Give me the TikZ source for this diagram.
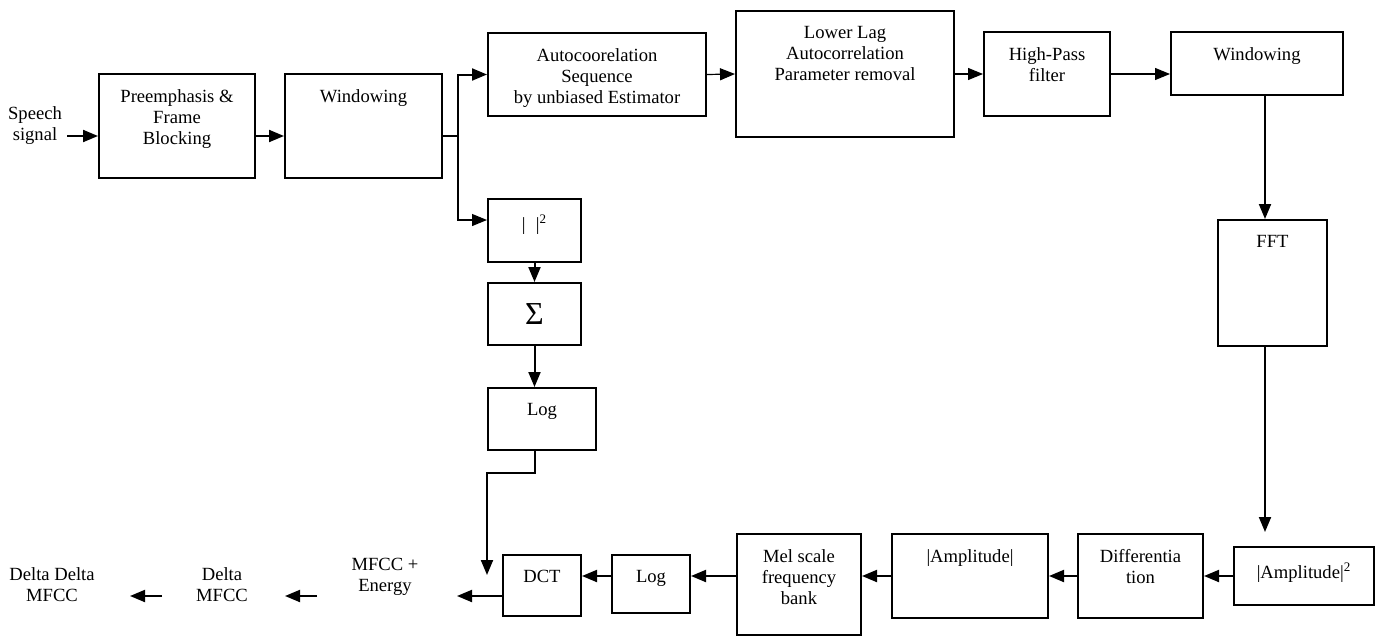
\documentclass[tikz,border=0pt]{standalone}
\usepackage{fontspec}
\setmainfont{Liberation Serif}
\usetikzlibrary{arrows.meta}

\tikzset{
  blk/.style={draw, line width=1pt, anchor=north west, inner sep=0pt},
  lbl/.style={anchor=north, yshift=-8pt, inner sep=0pt, align=center},
  txt/.style={align=center, inner sep=0pt},
  arr/.style={line width=1pt, -{Triangle[length=7.5pt,width=6pt]}},
  tarr/.style={line width=0.6pt, -{Triangle[length=7.5pt,width=6pt]}}
}

\begin{document}
\begin{tikzpicture}[x=0.5pt, y=-0.5pt, font={\fontsize{9.3pt}{10.5pt}\selectfont}]
 \useasboundingbox (0,0) rectangle (1382,637);

 % rows
 \coordinate (r1) at (0,136);
 \coordinate (o0) at (457,596);
 \coordinate (o1) at (317,596);
 \coordinate (o2) at (285,596);
 \coordinate (o3) at (162,596);
 \coordinate (o4) at (130,596);

 % top row
 \node[blk, minimum width=78pt, minimum height=52pt, label={[lbl]north:Preemphasis \&\\Frame\\Blocking}] (pre) at (98,73) {};
 \node[blk, minimum width=78.5pt, minimum height=52pt, label={[lbl]north:Windowing}] (win1) at (284,73) {};
 \node[blk, minimum width=109pt, minimum height=41.5pt, label={[lbl]north:Autocoorelation\\Sequence\\by unbiased Estimator}] (acs) at (487,32) {};
 \node[blk, minimum width=109pt, minimum height=63pt, label={[lbl]north:Lower Lag\\Autocorrelation\\Parameter removal}] (llag) at (735,10) {};
 \node[blk, minimum width=63pt, minimum height=42pt, label={[lbl]north:High-Pass\\filter}] (hpf) at (983,31) {};
 \node[blk, minimum width=86pt, minimum height=31.5pt, label={[lbl]north:Windowing}] (win2) at (1170,31) {};
 \node[blk, minimum width=54.5pt, minimum height=63pt, label={[lbl]north:FFT}] (fft) at (1217,219) {};

 % energy branch
 \node[blk, minimum width=46.5pt, minimum height=31.5pt, label={[lbl]north:|\hspace{0.55em}|\textsuperscript{2}}] (sq) at (487,198) {};
 \node[blk, minimum width=46.5pt, minimum height=31pt] (sum) at (487,282) {\fontsize{16pt}{16pt}\selectfont Σ};
 \node[blk, minimum width=54pt, minimum height=31pt, label={[lbl]north:Log}] (loge) at (487,387) {};

 % bottom row
 \node[blk, minimum width=39pt, minimum height=30.5pt, label={[lbl]north:DCT}] (dct) at (502,554) {};
 \node[blk, minimum width=39pt, minimum height=29pt, label={[lbl]north:Log}] (logm) at (611,554) {};
 \node[blk, minimum width=62pt, minimum height=50.5pt, label={[lbl]north:Mel scale\\frequency\\bank}] (mel) at (736,533) {};
 \node[blk, minimum width=78pt, minimum height=42pt, label={[lbl]north:|Amplitude|}] (amp) at (891,533) {};
 \node[blk, minimum width=62.5pt, minimum height=42pt, label={[lbl]north:Differentia\\tion}] (diff) at (1077,533) {};
 \node[blk, minimum width=70pt, minimum height=29pt, label={[lbl]north:|Amplitude|\textsuperscript{2}}] (amp2) at (1233,546) {};

 % free texts
 \node[txt] (speech) at (35,126) {Speech\\signal};
 \node[txt] (mfcce) at (385,577) {MFCC +\\Energy};
 \node[txt] (dmfcc) at (222,585) {Delta\\MFCC};
 \node[txt] (ddmfcc) at (52,585) {Delta Delta\\MFCC};

 % connectors
 \draw[arr] ([xshift=2.5pt]speech.east |- r1) -- (pre.west |- r1);
 \draw[arr] (pre.east |- r1) -- (win1.west |- r1);
 \draw[arr] (win1.east |- r1) -- ++(7.5pt,0) coordinate (split) |- (acs.west);
 \draw[tarr] (split) |- ([yshift=5.25pt]sq.west);
 \draw[tarr] (acs.east) -- (llag.west);
 \draw[tarr] (llag.east) -- (hpf.west);
 \draw[tarr] (hpf.east) -- (hpf.east -| win2.west);
 \draw[arr] ([xshift=4pt]win2.south) -- ([xshift=4pt]win2.south |- fft.north);
 \draw[arr, shorten >=7pt] ([xshift=-3.75pt]fft.south) -- ([xshift=-3.75pt]fft.south |- amp2.north);

 \draw[arr] (sq.south) -- (sum.north);
 \draw[arr] (sum.south) -- (sum.south |- loge.north);
 \draw[arr] (sum.south |- loge.south) -- ++(0,-11pt) -| ([yshift=5.25pt]loge.west |- dct.west);

 \draw[arr] (amp2.west) -- (diff.east);
 \draw[arr] (diff.west) -- (amp.east);
 \draw[arr] (amp.west) -- (amp.west -| mel.east);
 \draw[arr] (mel.west |- amp.west) -- (logm.east |- amp.west);
 \draw[arr] (logm.west |- amp.west) -- (dct.east |- amp.west);
 \draw[arr] (dct.west |- o0) -- (o0);
 \draw[arr] (o1) -- (o2);
 \draw[arr] (o3) -- (o4);
\end{tikzpicture}
\end{document}
